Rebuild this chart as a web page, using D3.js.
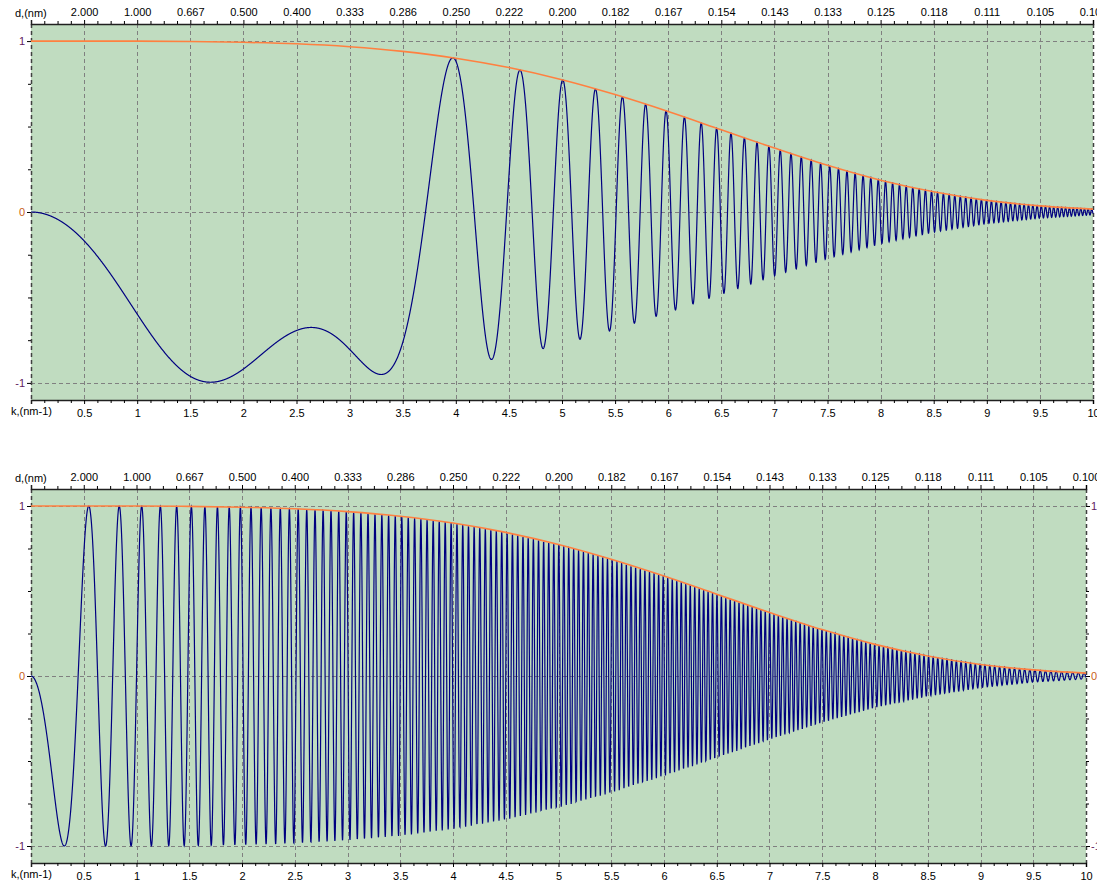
<!DOCTYPE html>
<html>
<head>
<meta charset="utf-8">
<script src="https://cdn.jsdelivr.net/npm/d3@7"></script>
<style>
  body { margin: 0; background: #ffffff; }
  svg { display: block; }
  text { font-family: "Liberation Sans", Arial, sans-serif; font-size: 11px; }
</style>
</head>
<body>
<svg id="chart" width="1097" height="882"></svg>
<script>
// ---- data ----
const kTickValues = [0.5,1,1.5,2,2.5,3,3.5,4,4.5,5,5.5,6,6.5,7,7.5,8,8.5,9,9.5,10];
const kTickLabels = ["0.5","1","1.5","2","2.5","3","3.5","4","4.5","5","5.5","6","6.5","7","7.5","8","8.5","9","9.5","10"];
const dTickLabels = ["2.000","1.000","0.667","0.500","0.400","0.333","0.286","0.250","0.222","0.200",
                     "0.182","0.167","0.154","0.143","0.133","0.125","0.118","0.111","0.105","0.100"];
const yTickValues = [1, 0, -1];
const yTickLabels = ["1", "0", "-1"];
// envelope read at every half step of k (same envelope in both panels)
const envelopeK = [0,0.5,1,1.5,2,2.5,3,3.5,4,4.5,5,5.5,6,6.5,7,7.5,8,8.5,9,9.5,10];
const envelopeValues = [1,1,1,0.998,0.993,0.984,0.967,0.940,0.900,0.845,0.774,0.687,0.588,0.481,0.374,0.273,0.186,0.118,0.068,0.036,0.017];
// phase terms of the oscillation, read from extrema positions: chi(k) = -a k^2 + b k^4
const panelNames = ["top", "bottom"];
const phaseA = [0.69, 15.75];
const phaseB = [0.05, 0.05];
const sampleStep = 0.002;

// ---- layout ----
const panels = [
  { left: 31, right: 1093, top: 24, bottom: 400, rightAxis: false },
  { left: 31, right: 1086, top: 489, bottom: 863, rightAxis: true }
];

const svg = d3.select("#chart");
const envScale = d3.scaleLinear().domain(envelopeK).range(envelopeValues);
const kSamples = d3.range(0, 10 + sampleStep / 2, sampleStep);
const minorK = d3.range(0.125, 10, 0.125).filter(v => Math.abs(v * 2 - Math.round(v * 2)) > 1e-6);

panels.forEach((p, i) => {
  const x = d3.scaleLinear().domain([0, 10]).range([p.left, p.right]);
  const y = d3.scaleLinear().domain([-1.1, 1.1]).range([p.bottom, p.top]);
  const g = svg.append("g").attr("class", "panel-" + panelNames[i]);

  // plot background
  g.append("rect").attr("x", p.left).attr("y", p.top)
    .attr("width", p.right - p.left).attr("height", p.bottom - p.top)
    .attr("fill", "#c0dcc0");

  // grid
  const grid = g.append("g").attr("stroke", "#808080").attr("stroke-dasharray", "4,3").attr("stroke-width", 1);
  grid.selectAll("line.v").data(kTickValues.slice(0, -1)).join("line")
    .attr("x1", d => Math.round(x(d)) + 0.5).attr("x2", d => Math.round(x(d)) + 0.5)
    .attr("y1", p.top).attr("y2", p.bottom);
  grid.selectAll("line.h").data(yTickValues).join("line")
    .attr("x1", p.left).attr("x2", p.right)
    .attr("y1", d => Math.round(y(d)) + 0.5).attr("y2", d => Math.round(y(d)) + 0.5);

  // left / right borders (dashed)
  [p.left, p.right].forEach(xx => {
    g.append("line").attr("x1", xx + 0.5).attr("x2", xx + 0.5).attr("y1", p.top).attr("y2", p.bottom)
      .attr("stroke", "#404040").attr("stroke-width", 1.5).attr("stroke-dasharray", "4,3");
  });

  // CTF curve
  const a = phaseA[i], b = phaseB[i];
  const ctf = kSamples.map(k => ({ k: k, v: Math.sin(-a * k * k + b * k * k * k * k) * envScale(k) }));
  g.append("path").datum(ctf)
    .attr("fill", "none").attr("stroke", "#000080").attr("stroke-width", 1.2)
    .attr("d", d3.line().x(d => x(d.k)).y(d => y(d.v)));

  // envelope
  g.append("path").datum(envelopeK.map((k, j) => ({ k: k, v: envelopeValues[j] })))
    .attr("fill", "none").attr("stroke", "#ff8040").attr("stroke-width", 1.6)
    .attr("d", d3.line().x(d => x(d.k)).y(d => y(d.v)).curve(d3.curveMonotoneX));

  // bottom axis (k)
  const bottomAxis = d3.axisBottom(x).tickValues(kTickValues)
    .tickFormat((d, j) => kTickLabels[j]).tickSize(4).tickPadding(5);
  const ba = g.append("g").attr("transform", `translate(0,${p.bottom})`).call(bottomAxis);
  ba.select(".domain").attr("stroke", "#202020").attr("stroke-width", 1.5);
  ba.selectAll("text").attr("fill", "#000").style("font-size", "11px").style("font-family", "Liberation Sans, Arial, sans-serif");
  const bam = g.append("g").attr("transform", `translate(0,${p.bottom})`)
    .call(d3.axisBottom(x).tickValues(minorK).tickFormat("").tickSize(3));
  bam.select(".domain").remove();
  g.append("text").attr("x", 11).attr("y", p.bottom + 15).text("k,(nm-1)");

  // top axis (d = 1/k)
  const topAxis = d3.axisTop(x).tickValues(kTickValues)
    .tickFormat((d, j) => dTickLabels[j]).tickSize(4).tickPadding(4);
  const ta = g.append("g").attr("transform", `translate(0,${p.top})`).call(topAxis);
  ta.select(".domain").attr("stroke", "#202020").attr("stroke-width", 1.5);
  ta.selectAll("text").attr("fill", "#000").style("font-size", "11px").style("font-family", "Liberation Sans, Arial, sans-serif");
  const tam = g.append("g").attr("transform", `translate(0,${p.top})`)
    .call(d3.axisTop(x).tickValues(minorK).tickFormat("").tickSize(3));
  tam.select(".domain").remove();
  g.append("text").attr("x", 15).attr("y", p.top - 7).text("d,(nm)");

  // left axis
  const yMinor = [0.75, 0.5, 0.25, -0.25, -0.5, -0.75];
  const leftAxis = d3.axisLeft(y).tickValues(yTickValues).tickFormat((d, j) => yTickLabels[j]).tickSize(4).tickPadding(2);
  const la = g.append("g").attr("transform", `translate(${p.left},0)`).call(leftAxis);
  la.select(".domain").remove();
  la.selectAll("text").attr("fill", (d) => d === 0 ? "#c86020" : "#602060")
    .style("font-size", "11px").style("font-family", "Liberation Sans, Arial, sans-serif");
  const lam = g.append("g").attr("transform", `translate(${p.left},0)`).call(d3.axisLeft(y).tickValues(yMinor).tickFormat("").tickSize(3));
  lam.select(".domain").remove();

  if (p.rightAxis) {
    const rightAxis = d3.axisRight(y).tickValues(yTickValues).tickFormat((d, j) => yTickLabels[j]).tickSize(4).tickPadding(1);
    const ra = g.append("g").attr("transform", `translate(${p.right},0)`).call(rightAxis);
    ra.select(".domain").remove();
    ra.selectAll("text").attr("fill", (d) => d === 0 ? "#c86020" : "#602060")
      .style("font-size", "11px").style("font-family", "Liberation Sans, Arial, sans-serif");
    const ram = g.append("g").attr("transform", `translate(${p.right},0)`).call(d3.axisRight(y).tickValues(yMinor).tickFormat("").tickSize(3));
    ram.select(".domain").remove();
  }
});
</script>
</body>
</html>
